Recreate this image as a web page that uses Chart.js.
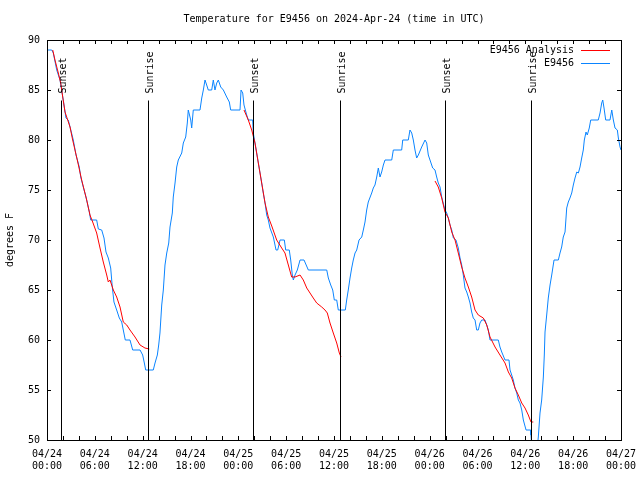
<!DOCTYPE html>
<html><head><meta charset="utf-8">
<script src="https://cdn.jsdelivr.net/npm/chart.js@4/dist/chart.umd.min.js"></script>
<style>html,body{margin:0;padding:0;background:#fff}#wrap{width:640px;height:480px}</style>
</head><body><div id="wrap"><canvas id="c" width="640" height="480"></canvas></div>
<script>
const titleText = 'Temperature for E9456 on 2024-Apr-24 (time in UTC)';
const yTitle = 'degrees F';
const tickDates = ['04/24','04/24','04/24','04/24','04/25','04/25','04/25','04/25','04/26','04/26','04/26','04/26','04/27'];
const tickTimes = ['00:00','06:00','12:00','18:00','00:00','06:00','12:00','18:00','00:00','06:00','12:00','18:00','00:00'];
const seriesNames = ['E9456 Analysis', 'E9456'];

// hours since 04/24 00:00 UTC
const blueHours = [0,0.59,0.79,1.22,1.63,1.84,2.04,2.38,2.67,2.89,3.30,3.64,4.05,4.23,4.55,4.89,5.31,5.48,6.23,6.44,6.86,7.15,7.40,7.69,7.99,8.19,8.40,8.74,9.07,9.37,9.57,9.82,10.41,10.75,11.67,12.00,12.21,12.38,13.33,13.55,13.84,14.01,14.17,14.39,14.59,14.80,15.02,15.27,15.43,15.72,15.84,16.06,16.27,16.47,16.90,17.10,17.40,17.60,17.72,18.03,18.15,18.35,19.19,19.41,19.61,19.82,20.03,20.23,20.66,20.86,21.07,21.29,21.49,21.79,22.12,22.54,22.87,23.04,24.21,24.34,24.55,24.71,25.05,25.25,25.80,25.88,26.09,26.30,26.51,26.72,26.93,27.13,27.35,27.56,27.76,27.97,28.39,28.73,28.94,29.23,29.77,29.94,30.39,30.57,30.77,30.90,31.11,31.40,31.74,32.24,32.78,35.09,35.29,35.59,35.84,36.04,36.34,36.54,37.42,37.59,37.79,38.01,38.22,38.42,38.64,38.85,39.14,39.48,39.68,39.89,40.10,40.30,40.73,40.93,41.14,41.36,41.56,41.77,41.98,42.19,42.40,43.24,43.44,44.49,44.62,45.32,45.53,45.75,45.95,46.16,46.37,46.58,47.00,47.42,47.63,47.83,48.04,48.38,48.67,48.88,49.08,49.30,49.51,49.92,50.14,50.34,50.55,50.77,50.97,51.30,51.59,51.81,52.02,52.22,52.43,52.65,52.85,53.06,53.27,53.47,53.69,53.90,54.10,54.31,54.53,54.94,55.16,55.36,55.57,56.61,56.82,57.04,57.45,57.95,58.08,58.29,58.49,58.70,58.92,59.12,59.33,59.55,59.75,60.09,60.68,60.71,60.84,61.46,61.63,61.84,62.05,62.26,62.38,62.47,62.68,62.88,63.10,63.31,63.60,64.14,64.35,64.56,64.76,64.98,65.19,65.39,65.60,65.82,66.02,66.23,66.45,66.65,66.86,67.07,67.27,67.40,67.61,67.77,68.02,68.20,69.15,69.37,69.58,69.71,69.87,70.08,70.62,70.84,71.04,71.25,71.54,71.67,71.88,72.00];
const blueTemps = [89,89,88.7,87,86,85,84,82.2,82,81.3,80,78.5,77.3,76.3,75.3,74.3,72.8,72,72,71.1,71,70.2,68.8,68.2,67.2,65.3,63.8,63,62.2,61.8,61,60,60,59,59,58.5,57.7,57,57,57.7,58.5,59.5,60.7,63.5,65,67.5,68.7,69.7,71.3,72.7,74.3,75.7,77.3,78,78.7,79.7,80.3,81.7,83,82,81.2,83,83,84.2,85,86,85.5,85,85,86,85,85.7,86,85.3,85,84.3,83.8,83,83,85,84.7,83.5,82.5,82,82,80.7,79.7,78.7,77.7,76.7,75.7,74.7,73.7,72.5,72,71.2,70.3,69,69,70,70,69,69,68,66.5,66,66.5,67,68,68,67,67,66.2,65.5,65,64,64,63,63,64,65,66.2,67.2,68,68.7,69,70,70.3,71,71.8,73,73.8,74.7,75.2,75.5,76.3,77.2,76.3,76.8,77.5,78,78,79,79,80,80,81,80.7,80,79,78.2,78.5,79.3,80,79.7,78.5,78,77.2,77,76.3,75.7,75.3,74.3,73,72.7,72.2,71.5,71,70.2,70,69.2,68.2,67.5,66.5,65.2,64.8,64.3,63.7,62.8,62.2,62,61,61,61.7,62,62,61.5,61,60,60,59.3,58.8,58,58,57,56.5,56,55.2,54.7,54,53.7,53,52,51,51,50.5,49,49,50.3,52.7,54,56.3,58.5,60.8,62.5,64.2,65.5,66.5,68,68,68.7,69.3,70.3,70.8,73.2,73.8,74.2,74.7,75.5,76.2,76.8,76.7,77.3,78.2,79,80,80.8,80.5,81.2,82,82,82.7,83.7,84,83.2,82,82,83,82,81.2,81,80.2,79.3,79];

// analysis series: null marks a break between forecast runs
const redHours = [0.72,1.00,1.42,1.72,1.97,2.26,2.89,3.22,3.80,4.35,4.98,5.39,5.73,6.23,6.65,7.06,7.49,7.69,7.90,8.32,8.74,9.16,9.57,10.00,10.41,11.04,11.67,12.29,12.83,
  18.0,
  24.71,25.25,25.68,26.09,26.51,26.93,27.35,27.76,28.19,28.81,29.44,29.85,30.27,30.69,31.11,31.74,32.15,32.58,32.99,33.40,33.83,34.46,34.87,35.16,35.50,35.91,36.34,36.67,36.88,
  42.0,
  48.67,49.08,49.51,49.92,50.34,50.77,51.18,51.59,52.02,52.43,52.85,53.27,53.69,54.10,54.73,55.16,55.57,56.20,56.82,57.45,57.87,58.29,58.70,59.12,59.55,59.96,60.37,60.71,61.00];
const redTemps = [89,88,86.7,85.7,84.3,82.8,81.3,80,78,76,74,72.5,71.8,70.7,69.2,67.8,66.5,65.8,66,65,64.3,63.3,61.8,61.5,61,60.3,59.5,59.2,59.1,
  null,
  83,82,81,79.7,77.7,75.7,73.7,72.3,71.4,70,69.2,68.7,67.5,66.3,66.3,66.5,66,65.2,64.7,64.2,63.7,63.3,63,62.7,61.7,60.7,59.7,58.7,58.3,
  null,
  75.9,75.3,74.2,72.8,72.2,70.8,70,68.7,67.3,66.2,65.3,64.3,63,62.5,62.2,61.5,60.3,59.3,58.5,57.7,56.8,56.2,55.2,54.5,53.7,53.2,52.5,51.8,51.8];

const eventHours = [1.76, 12.67, 25.84, 36.75, 49.92, 60.71];
const eventLabels = ['Sunset','Sunrise','Sunset','Sunrise','Sunset','Sunrise'];

const FONT = "'DejaVu Sans Mono', 'Liberation Mono', monospace";
const RED = '#ff0000', BLUE = '#0a84ff';

const decor = {
  id: 'decor',
  afterDatasetsDraw(chart) {
    const {ctx, chartArea: a, scales: {x, y}} = chart;
    ctx.save();
    ctx.strokeStyle = '#000';
    ctx.lineWidth = 1;
    const topY = Math.round(a.bottom - 0.85 * (a.bottom - a.top)) + 0.5;
    ctx.font = '10px ' + FONT;
    ctx.fillStyle = '#000';
    eventHours.forEach((h, i) => {
      const px = Math.round(x.getPixelForValue(h)) + 0.5;
      ctx.beginPath(); ctx.moveTo(px, a.bottom); ctx.lineTo(px, topY); ctx.stroke();
      ctx.save();
      ctx.translate(px + 2, topY - 7);
      ctx.rotate(-Math.PI / 2);
      ctx.textAlign = 'left'; ctx.textBaseline = 'middle';
      ctx.fillText(eventLabels[i], 0, 0);
      ctx.restore();
    });
    ctx.strokeRect(Math.round(a.left) + 0.5, Math.round(a.top) + 0.5, Math.round(a.right - a.left), Math.round(a.bottom - a.top));
    ctx.beginPath();
    for (let h = x.min; h <= x.max + 1e-9; h += 2) {
      const px = Math.round(x.getPixelForValue(h)) + 0.5;
      ctx.moveTo(px, a.bottom); ctx.lineTo(px, a.bottom - 4);
      ctx.moveTo(px, a.top); ctx.lineTo(px, a.top + 4);
    }
    for (let v = y.min; v <= y.max + 1e-9; v += 5) {
      const py = Math.round(y.getPixelForValue(v)) + 0.5;
      ctx.moveTo(a.left, py); ctx.lineTo(a.left + 4, py);
      ctx.moveTo(a.right, py); ctx.lineTo(a.right - 4, py);
    }
    ctx.stroke();
    ctx.textAlign = 'right'; ctx.textBaseline = 'middle';
    const cols = [RED, BLUE];
    seriesNames.forEach((n, i) => {
      const ly = a.top + 10 + i * 13;
      ctx.fillStyle = '#000';
      ctx.fillText(n, a.right - 47, ly);
      ctx.strokeStyle = cols[i];
      ctx.beginPath(); ctx.moveTo(a.right - 40, ly + 0.5); ctx.lineTo(a.right - 11, ly + 0.5); ctx.stroke();
    });
    ctx.fillStyle = '#000'; ctx.textAlign = 'center'; ctx.textBaseline = 'middle';
    ctx.fillText(titleText, (a.left + a.right) / 2, 19);
    ctx.restore();
  }
};

new Chart(document.getElementById('c'), {
  type: 'line',
  data: {
    datasets: [
      { label: seriesNames[0], data: redHours.map((h, i) => ({x: h, y: redTemps[i]})), borderColor: RED, borderWidth: 1, pointRadius: 0, spanGaps: false, tension: 0, order: 1 },
      { label: seriesNames[1], data: blueHours.map((h, i) => ({x: h, y: blueTemps[i]})), borderColor: BLUE, borderWidth: 1, pointRadius: 0, tension: 0, order: 2 }
    ]
  },
  options: {
    responsive: false, animation: false, devicePixelRatio: 1,
    layout: { padding: { top: 40, right: 19, left: 0, bottom: 0 } },
    plugins: { legend: { display: false }, tooltip: { enabled: false } },
    scales: {
      x: {
        type: 'linear', min: 0, max: 72,
        afterFit: s => { s.height = 40; s.paddingLeft = 0; s.paddingRight = 0; },
        grid: { display: false, drawTicks: false },
        border: { display: false },
        ticks: { stepSize: 6, padding: 8, maxRotation: 0, autoSkip: false, color: '#000',
          font: { family: FONT, size: 10, lineHeight: 1.2 },
          callback: v => { const i = Math.round(v / 6); return [tickDates[i], tickTimes[i]]; } }
      },
      y: {
        min: 50, max: 90,
        afterFit: s => { s.width = 47; s.paddingTop = 0; s.paddingBottom = 0; },
        grid: { display: false, drawTicks: false },
        border: { display: false },
        ticks: { stepSize: 5, padding: 7, color: '#000', font: { family: FONT, size: 10 } },
        title: { display: true, text: yTitle, color: '#000', font: { family: FONT, size: 10 }, padding: { top: 4, bottom: 0 } }
      }
    }
  },
  plugins: [decor]
});
</script></body></html>
